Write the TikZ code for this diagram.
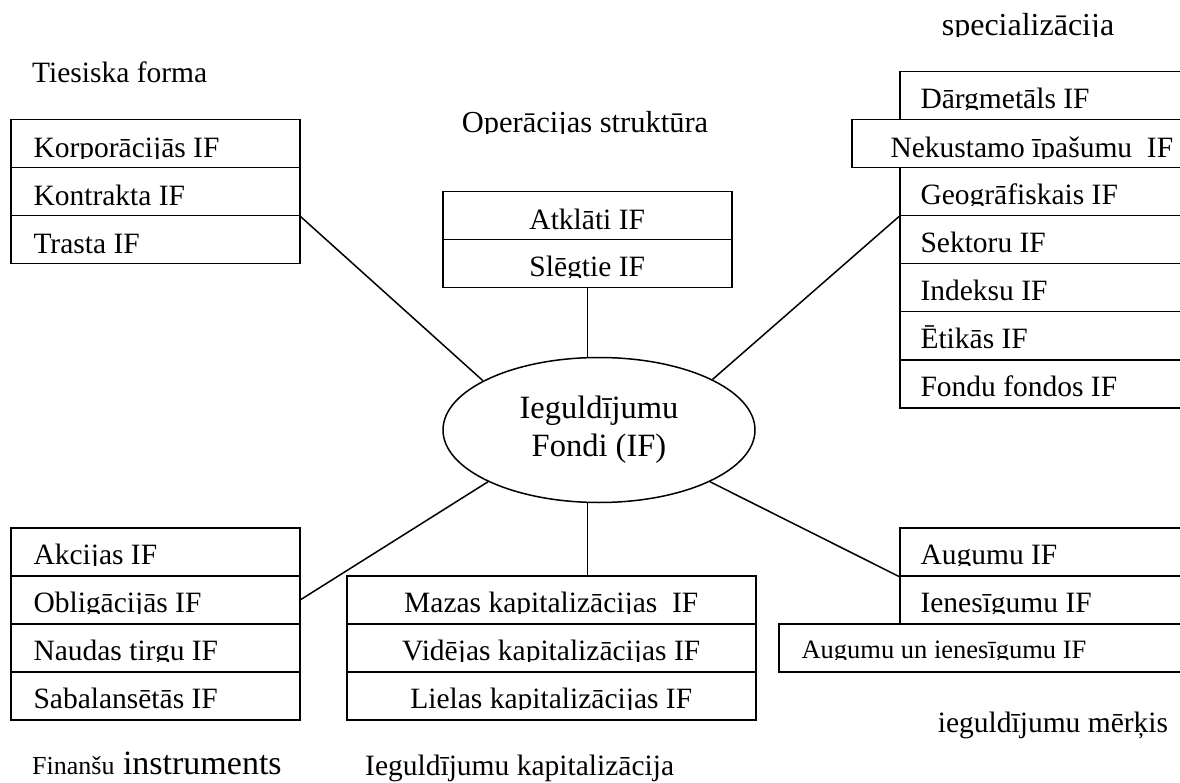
\documentclass[tikz,border=0pt]{standalone}
\usepackage{fontspec}
\setmainfont{Liberation Serif}
\usetikzlibrary{shapes.geometric}

\tikzset{
  cell/.style={draw, line width=1.5pt, fill=white, inner sep=0pt, anchor=north west, minimum height=48pt},
  celltext/.style={inner sep=0pt, minimum width=0pt, minimum height=0pt, draw=none, fill=none},
  % text set left in a cell, cut off just under the baseline
  lcell/.style n args={3}{cell, path picture={
      \clip ([yshift=#2-1pt]path picture bounding box.south west) rectangle (path picture bounding box.north east);
      \node[celltext, anchor=base west] at ([xshift=#1, yshift=#2]path picture bounding box.south west) {#3};}},
  % text centred in a cell
  ccell/.style n args={2}{cell, path picture={
      \clip ([yshift=#1-1pt]path picture bounding box.south west) rectangle (path picture bounding box.north east);
      \node[celltext, anchor=base] at ([yshift=#1]path picture bounding box.south) {#2};}},
  conn/.style={line width=1.5pt},
}

\begin{document}
\begin{tikzpicture}[x=1pt, y=-1pt, inner sep=0pt, font=\fontsize{29.5}{34}\selectfont]
    \useasboundingbox (0,0) rectangle (1180,783);
    \clip (0,0) rectangle (1180,783);

    % Tiesiska forma
    \node[anchor=base west] (tiesiska) at (32,83) {Tiesiska forma};
    \node[lcell={22pt}{10.5pt}{Korporācijās IF}, minimum width=289pt] (korp) at (10,119) {};
    \node[lcell={22pt}{10.5pt}{Kontrakta IF}, minimum width=289pt] (kontr) at (10,167) {};
    \node[lcell={22pt}{10.5pt}{Trasta IF}, minimum width=289pt] (trasta) at (10,215) {};

    % Operacijas struktura
    \begin{scope}
        \clip (400,0) rectangle (800,134);
        \node[anchor=base, font=\fontsize{30.5}{35}\selectfont] (operac) at (585,133) {Operācijas struktūra};
    \end{scope}
    \node[ccell={10pt}{Atklāti IF}, minimum width=289pt] (atkl) at (442,191) {};
    \node[ccell={11pt}{Slēgtie IF}, minimum width=289pt] (slegt) at (442,239) {};

    % Specializacija
    \begin{scope}
        \clip (850,0) rectangle (1180,37);
        \node[anchor=base, font=\fontsize{32}{36}\selectfont] (special) at (1028,36) {specializācija};
    \end{scope}
    \node[lcell={20pt}{11pt}{Dārgmetāls IF}, minimum width=300pt] (dargm) at (899,71) {};
    \node[lcell={20pt}{11pt}{Geogrāfiskais IF}, minimum width=300pt] (geogr) at (899,167) {};
    \node[lcell={20pt}{11pt}{Sektoru IF}, minimum width=300pt] (sekt) at (899,215) {};
    \node[lcell={20pt}{11pt}{Indeksu IF}, minimum width=300pt] (indek) at (899,263) {};
    \node[lcell={20pt}{11pt}{Ētikās IF}, minimum width=300pt] (etik) at (899,311) {};
    \node[lcell={20pt}{11pt}{Fondu fondos IF}, minimum width=300pt] (fondf) at (899,359) {};
    \node[lcell={38pt}{10pt}{Nekustamo īpašumu~ IF}, minimum width=360pt] (nekust) at (851,119) {};

    % Centre
    \node[draw, ellipse, line width=1.5pt, minimum width=312pt, minimum height=145pt,
          align=center, font=\fontsize{32.5}{38}\selectfont] (fondi) at (599,430) {Ieguldījumu\\Fondi (IF)};

    % Finansu instruments
    \node[lcell={22pt}{11pt}{Akcijas IF}, minimum width=289pt] (akc) at (10,527) {};
    \node[lcell={22pt}{11pt}{Obligācijās IF}, minimum width=289pt] (oblig) at (10,575) {};
    \node[lcell={22pt}{11pt}{Naudas tirgu IF}, minimum width=289pt] (naud) at (10,623) {};
    \node[lcell={22pt}{11pt}{Sabalansētās IF}, minimum width=289pt] (sabal) at (10,671) {};
    \node[anchor=base west, font=\fontsize{34}{38}\selectfont] (finansu) at (32,774) {{\fontsize{26}{30}\selectfont Finanšu} instruments};

    % Ieguldijumu kapitalizacija
    \node[ccell={11pt}{Mazas kapitalizācijas~ IF}, minimum width=409pt] (mazas) at (346,575) {};
    \node[ccell={11pt}{Vidējas kapitalizācijas IF}, minimum width=409pt] (videj) at (346,623) {};
    \node[ccell={11pt}{Lielas kapitalizācijas IF}, minimum width=409pt] (lielas) at (346,671) {};
    \node[anchor=base west] (kapit) at (365,775) {Ieguldījumu kapitalizācija};

    % Ieguldijumu merkis
    \node[lcell={20pt}{11pt}{Augumu IF}, minimum width=300pt] (aug) at (899,527) {};
    \node[lcell={20pt}{11pt}{Ienesīgumu IF}, minimum width=300pt] (ienes) at (899,575) {};
    \node[lcell={22pt}{13pt}{\fontsize{26.5}{30}\selectfont Augumu un ienesīgumu IF}, minimum width=420pt] (augien) at (778,623) {};
    \node[anchor=base] (merkis) at (1053,732) {ieguldījumu mērķis};

    % Connectors
    \draw[conn] (kontr.south east) -- (fondi.157);
    \draw[conn] (geogr.south west) -- (fondi.24);
    \draw[conn] (fondi.205) -- (oblig.east);
    \draw[conn] (fondi.335) -- (aug.south west);
    \draw[conn] (slegt.south) -- (slegt.south |- fondi.north);
    \draw[conn] (slegt.south |- fondi.south) -- (slegt.south |- mazas.north);
\end{tikzpicture}
\end{document}
